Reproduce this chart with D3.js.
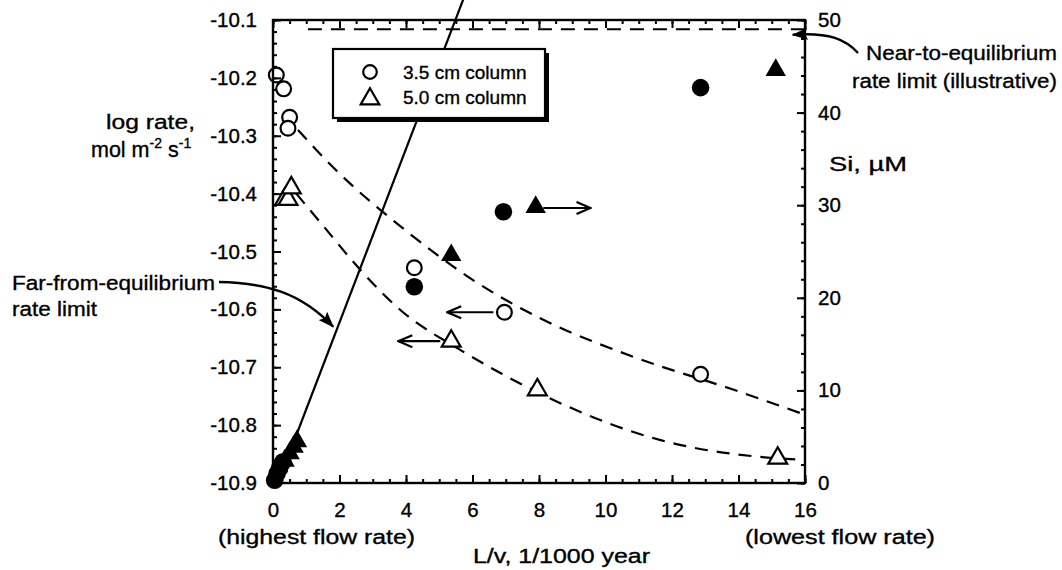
<!DOCTYPE html>
<html>
<head>
<meta charset="utf-8">
<script src="https://cdn.jsdelivr.net/npm/d3@7"></script>
<style>
  html, body { margin: 0; padding: 0; background: #fff; }
  svg { display: block; font-family: "Liberation Sans", Arial, Helvetica, sans-serif; }
  svg text { stroke: #000; stroke-width: 0.35px; fill: #000; }
</style>
</head>
<body>
<svg id="chart" width="1062" height="570"></svg>
<script>
// ---- axis tick values ----
const xTicks = [0, 2, 4, 6, 8, 10, 12, 14, 16];
const rateTicks = [-10.9, -10.8, -10.7, -10.6, -10.5, -10.4, -10.3, -10.2, -10.1];
const siTicks = [0, 10, 20, 30, 40, 50];

// ---- measured values: [L/v (1/1000 yr), value] ----
// 3.5 cm column, log dissolution rate (open circles)
const rate35 = [[0.1, -10.195], [0.32, -10.219], [0.5, -10.268], [0.45, -10.287],
                [4.25, -10.528], [6.96, -10.605], [12.86, -10.712]];
// 3.5 cm column, effluent Si in uM (filled circles)
const si35 = [[0.05, 0.3], [0.12, 1.0], [0.2, 1.6], [0.3, 2.3], [4.25, 21.2], [6.93, 29.3], [12.86, 42.7]];
// 5.0 cm column, log dissolution rate (open triangles)
const rate50 = [[0.35, -10.41], [0.45, -10.41], [0.55, -10.39],
                [5.36, -10.655], [7.95, -10.739], [15.18, -10.857]];
// 5.0 cm column, effluent Si in uM (filled triangles)
const si50 = [[0.35, 2.4], [0.5, 3.2], [0.62, 3.9], [0.72, 4.5], [5.36, 24.6], [7.9, 29.8], [15.12, 44.6]];

// dashed trend curves through the rate data
const trend35 = [[0.75, -10.29], [1.8, -10.354], [4.04, -10.466], [6.14, -10.554],
                 [8.13, -10.618], [10.84, -10.682], [13.86, -10.739], [16, -10.782]];
const trend50 = [[0.7, -10.40], [1.5, -10.455], [2.6, -10.53], [3.83, -10.601], [5.63, -10.670],
                 [6.84, -10.710], [8.64, -10.762], [11.66, -10.826], [14.67, -10.855], [16, -10.86]];

// rate limits, in Si (uM)
const farLimit = [[0.15, 0], [5.72, 52.2]];
const nearLimit = [[1.05, 49.0], [16, 49.0]];

// arrows pointing a point to the axis it belongs to: [from, to]
const rateArrows = [[[6.63, -10.605], [5.24, -10.605]], [[5.03, -10.655], [3.77, -10.655]]];
const siArrows = [[[8.13, 29.7], [9.55, 29.7]]];

// callout tips
const farTip = [1.81, -10.630];
const nearTip = [15.63, 48.4];

// ---- layout ----
const svg = d3.select("#chart");
const P = { l: 273, r: 805, t: 20, b: 483 };
const x = d3.scaleLinear().domain([0, 16]).range([P.l, P.r]);
const yRate = d3.scaleLinear().domain([-10.9, -10.1]).range([P.b, P.t]);
const ySi = d3.scaleLinear().domain([0, 50]).range([P.b, P.t]);

const defs = svg.append("defs");
defs.append("marker").attr("id", "headFill")
  .attr("viewBox", "0 0 16 12").attr("refX", 15).attr("refY", 6)
  .attr("markerWidth", 16).attr("markerHeight", 12)
  .attr("markerUnits", "userSpaceOnUse").attr("orient", "auto")
  .append("path").attr("d", "M0,0 L16,6 L0,12 L3,6 Z").attr("fill", "#000");
defs.append("marker").attr("id", "headOpen")
  .attr("viewBox", "0 0 16 14").attr("refX", 15).attr("refY", 7)
  .attr("markerWidth", 16).attr("markerHeight", 14)
  .attr("markerUnits", "userSpaceOnUse").attr("orient", "auto")
  .append("path").attr("d", "M1,1 L15,7 L1,13").attr("fill", "none")
  .attr("stroke", "#000").attr("stroke-width", 2.2);

// ---- trend curves ----
const rateLine = d3.line().x(d => x(d[0])).y(d => yRate(d[1])).curve(d3.curveMonotoneX);
const siLine = d3.line().x(d => x(d[0])).y(d => ySi(d[1]));
[trend35, trend50].forEach(t => {
  svg.append("path").attr("d", rateLine(t)).attr("fill", "none")
    .attr("stroke", "#000").attr("stroke-width", 2.2).attr("stroke-dasharray", "13,9");
});

// far-from-equilibrium line (runs past the frame top)
svg.append("path").attr("d", siLine(farLimit)).attr("fill", "none")
  .attr("stroke", "#000").attr("stroke-width", 2.2);
// near-to-equilibrium line
svg.append("path").attr("d", siLine(nearLimit)).attr("fill", "none")
  .attr("stroke", "#000").attr("stroke-width", 2.2).attr("stroke-dasharray", "14,9");

// ---- legend ----
const leg = svg.append("g");
leg.append("rect").attr("x", 337).attr("y", 53).attr("width", 212).attr("height", 69).attr("fill", "#000");
leg.append("rect").attr("x", 333).attr("y", 49).attr("width", 212).attr("height", 69)
  .attr("fill", "#fff").attr("stroke", "#000").attr("stroke-width", 2.2);
leg.append("circle").attr("cx", 370).attr("cy", 72).attr("r", 6.8)
  .attr("fill", "none").attr("stroke", "#000").attr("stroke-width", 2.2);
leg.append("path").attr("d", d3.symbol(d3.symbolTriangle, 150)())
  .attr("transform", "translate(370,99)").attr("fill", "none").attr("stroke", "#000").attr("stroke-width", 2.2);
leg.append("text").attr("x", 403).attr("y", 79).attr("font-size", 19).text("3.5 cm column");
leg.append("text").attr("x", 403).attr("y", 104).attr("font-size", 19).text("5.0 cm column");

// ---- points ----
const triOpen = d3.symbol(d3.symbolTriangle, 155)();
const triFill = d3.symbol(d3.symbolTriangle, 180)();
svg.append("g").selectAll("circle").data(si35).join("circle")
  .attr("cx", d => x(d[0])).attr("cy", d => ySi(d[1])).attr("r", 8.8).attr("fill", "#000");
svg.append("g").selectAll("path").data(si50).join("path")
  .attr("d", triFill).attr("transform", d => `translate(${x(d[0])},${ySi(d[1])})`).attr("fill", "#000");
svg.append("g").selectAll("circle").data(rate35).join("circle")
  .attr("cx", d => x(d[0])).attr("cy", d => yRate(d[1])).attr("r", 7.4)
  .attr("fill", "#fff").attr("stroke", "#000").attr("stroke-width", 2.2);
svg.append("g").selectAll("path").data(rate50).join("path")
  .attr("d", triOpen).attr("transform", d => `translate(${x(d[0])},${yRate(d[1])})`)
  .attr("fill", "#fff").attr("stroke", "#000").attr("stroke-width", 2.2);

// axis-direction arrows
rateArrows.forEach(a => {
  svg.append("line").attr("x1", x(a[0][0])).attr("y1", yRate(a[0][1]))
    .attr("x2", x(a[1][0])).attr("y2", yRate(a[1][1]))
    .attr("stroke", "#000").attr("stroke-width", 2.2).attr("marker-end", "url(#headOpen)");
});
siArrows.forEach(a => {
  svg.append("line").attr("x1", x(a[0][0])).attr("y1", ySi(a[0][1]))
    .attr("x2", x(a[1][0])).attr("y2", ySi(a[1][1]))
    .attr("stroke", "#000").attr("stroke-width", 2.2).attr("marker-end", "url(#headOpen)");
});

// ---- axes ----
function styleAxis(g, size) {
  g.select(".domain").remove();
  g.selectAll("line").attr("stroke", "#000").attr("stroke-width", 2);
  g.selectAll("text").attr("font-size", size).attr("fill", "#000")
    .attr("font-family", "'Liberation Sans', Arial, sans-serif");
}
const xMinor = d3.range(0, 16.001, 0.5);
const rateMinor = d3.range(0, 41).map(i => -10.9 + i * 0.02);
const siMinor = d3.range(0, 51, 2);

svg.append("g").attr("transform", `translate(0,${P.b})`)
  .call(d3.axisBottom(x).tickValues(xMinor).tickSize(-4).tickFormat("")).call(g => styleAxis(g, 0));
svg.append("g").attr("transform", `translate(0,${P.b})`)
  .call(d3.axisBottom(x).tickValues(xTicks).tickSize(-8).tickPadding(19).tickFormat(d3.format("d")))
  .call(g => styleAxis(g, 20.5));
svg.append("g").attr("transform", `translate(0,${P.t})`)
  .call(d3.axisTop(x).tickValues(xMinor).tickSize(-4).tickFormat("")).call(g => styleAxis(g, 0));
svg.append("g").attr("transform", `translate(0,${P.t})`)
  .call(d3.axisTop(x).tickValues(xTicks).tickSize(-8).tickFormat("")).call(g => styleAxis(g, 0));

svg.append("g").attr("transform", `translate(${P.l},0)`)
  .call(d3.axisLeft(yRate).tickValues(rateMinor).tickSize(-4).tickFormat("")).call(g => styleAxis(g, 0));
svg.append("g").attr("transform", `translate(${P.l},0)`)
  .call(d3.axisLeft(yRate).tickValues(rateTicks).tickSize(-8).tickPadding(16).tickFormat(d => d.toFixed(1)))
  .call(g => styleAxis(g, 20.5));

svg.append("g").attr("transform", `translate(${P.r},0)`)
  .call(d3.axisRight(ySi).tickValues(siMinor).tickSize(-4).tickFormat("")).call(g => styleAxis(g, 0));
svg.append("g").attr("transform", `translate(${P.r},0)`)
  .call(d3.axisRight(ySi).tickValues(siTicks).tickSize(-8).tickPadding(13).tickFormat(d3.format("d")))
  .call(g => styleAxis(g, 20.5));

// frame
svg.append("rect").attr("x", P.l).attr("y", P.t).attr("width", P.r - P.l).attr("height", P.b - P.t)
  .attr("fill", "none").attr("stroke", "#000").attr("stroke-width", 2.4);

// ---- labels ----
function label(str, x0, y0, width, size, anchor) {
  const t = svg.append("text").attr("x", x0).attr("y", y0).attr("font-size", size)
    .attr("text-anchor", anchor || "start").text(str);
  if (width) t.attr("textLength", width).attr("lengthAdjust", "spacingAndGlyphs");
  return t;
}
label("log rate,", 106, 129, 89, 20.5);
const unit = svg.append("text").attr("x", 91).attr("y", 157).attr("font-size", 21.5);
unit.append("tspan").text("mol m");
unit.append("tspan").attr("dy", -9).attr("font-size", 14).text("-2");
unit.append("tspan").attr("dy", 9).text(" s");
unit.append("tspan").attr("dy", -9).attr("font-size", 14).text("-1");

label("Si, \u00b5M", 829, 171, 78, 20.5);
label("Near-to-equilibrium", 866, 60, 191, 20.5);
label("rate limit (illustrative)", 852, 88, 205, 20.5);
label("Far-from-equilibrium", 12, 290, 203, 20.5);
label("rate limit", 12, 316, 85, 20.5);
label("(highest flow rate)", 218, 544, 197, 20.5);
label("(lowest flow rate)", 745, 544, 190, 20.5);
label("L/v, 1/1000 year", 473, 563, 177, 20.5);

// callout arrows
const ft = [x(farTip[0]), yRate(farTip[1])];
svg.append("path")
  .attr("d", `M219,282 C265,283 300,292 ${ft[0]},${ft[1]}`)
  .attr("fill", "none").attr("stroke", "#000").attr("stroke-width", 2.4).attr("marker-end", "url(#headFill)");
const nt = [x(nearTip[0]), ySi(nearTip[1])];
svg.append("path")
  .attr("d", `M858,53 C846,40 830,32 ${nt[0]},${nt[1]}`)
  .attr("fill", "none").attr("stroke", "#000").attr("stroke-width", 2.4).attr("marker-end", "url(#headFill)");
</script>
</body>
</html>
